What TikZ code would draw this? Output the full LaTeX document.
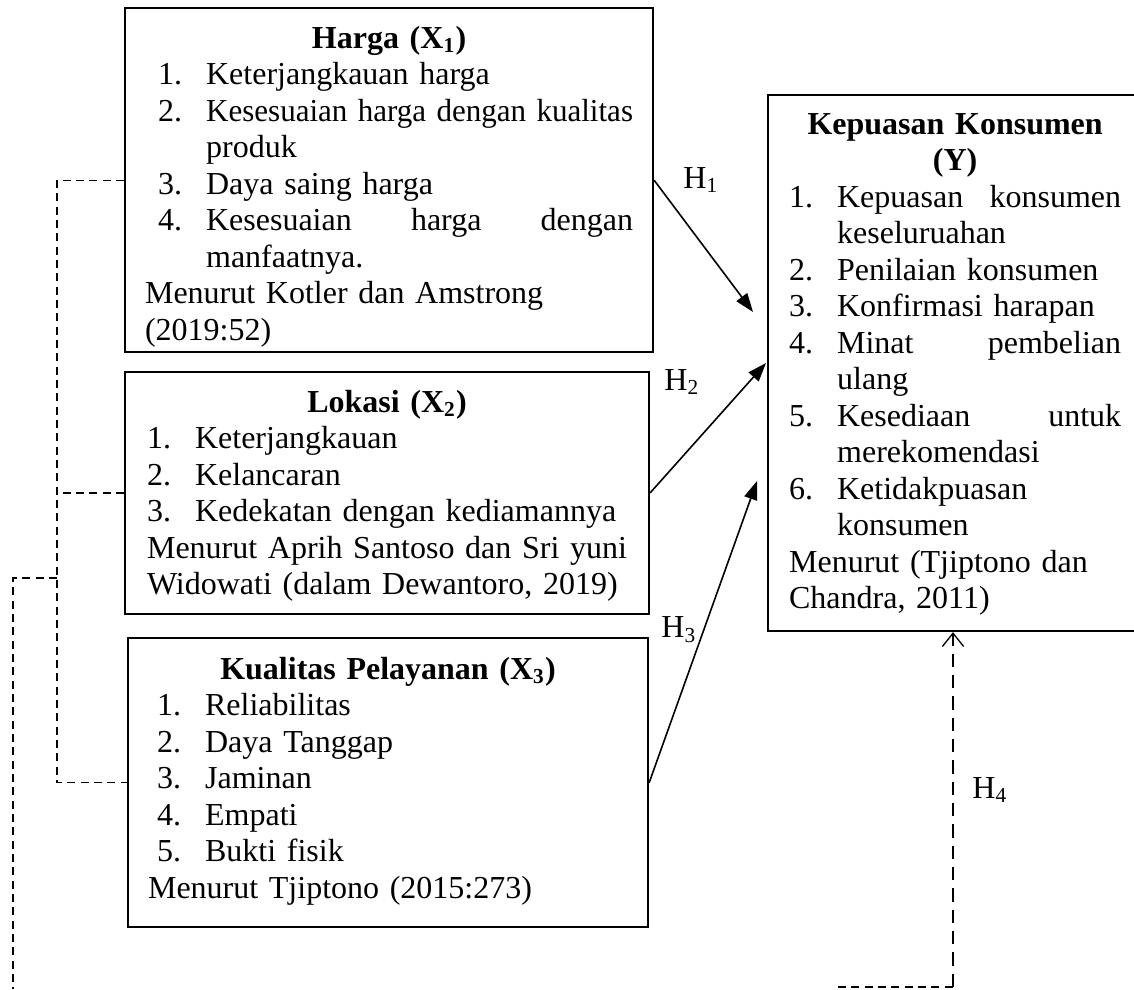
\documentclass[tikz,border=0pt]{standalone}
\usepackage{fontspec}
\setmainfont{Liberation Serif}
\usepackage{graphicx}
\usepackage{tikz}
\usetikzlibrary{arrows.meta}
\setlength{\parindent}{0pt}
\newcommand{\butir}[3][0pt]{\hspace*{#1}\makebox[18pt][l]{#2}#3}
\newcommand{\lanjut}[2][0pt]{\hspace*{\dimexpr#1+18pt\relax}#2}
\newcommand{\atas}[1]{\rule{0pt}{#1}}
\newcommand{\bawah}[1]{\rule[-#1]{0pt}{#1}}

\begin{document}
\begin{tikzpicture}[x=0.375pt,y=-0.375pt,
                    kotak/.style={draw,line width=0.8pt,inner ysep=0pt,anchor=north west,align=left,font=\fontsize{12}{13.7}\selectfont},
                    panah/.style={-{Triangle[length=7pt,width=5pt]},line width=0.6pt},
                    garis/.style={line width=0.5pt,dash pattern=on 3pt off 2pt},
                    garis panjang/.style={line width=0.5pt,dash pattern=on 5pt off 3pt},
                    tanda/.style={font=\fontsize{12}{13.7}\selectfont,inner sep=0pt}]
                    \useasboundingbox (0,0) rectangle (1134,989);
                    \node[kotak,inner xsep=7.5pt,text width=183pt] (harga) at (124,7) {\atas{15pt}\hfill\textbf{Harga (X\textsubscript{1})}\hfill\null\\
                        \butir[4.9pt]{1.}{Keterjangkauan harga}\\
                        \butir[4.9pt]{2.}{\scalebox{0.97}[1]{Kesesuaian harga dengan kualitas}}\\
                        \lanjut[4.9pt]{produk}\\
                        \butir[4.9pt]{3.}{Daya saing harga}\\
                        \butir[4.9pt]{4.}{Kesesuaian\hfill harga\hfill dengan}\\
                        \lanjut[4.9pt]{manfaatnya.}\\
                        Menurut Kotler dan Amstrong\\
                        (2019:52)\bawah{4.5pt}};
                    \node[kotak,inner xsep=8.25pt,text width=180pt] (lokasi) at (124,371) {\atas{15pt}\hfill\textbf{Lokasi (X\textsubscript{2})}\hfill\null\\
                        \butir{1.}{Keterjangkauan}\\
                        \butir{2.}{Kelancaran}\\
                        \butir{3.}{Kedekatan dengan kediamannya}\\
                        Menurut Aprih Santoso dan Sri yuni\\
                        Widowati (dalam Dewantoro, 2019)\bawah{7.1pt}};
                    \node[kotak,inner xsep=7.5pt,text width=180pt] (kualitas) at (127,637) {\atas{15.4pt}\hfill\textbf{Kualitas Pelayanan (X\textsubscript{3})}\hfill\null\\
                        \butir[3.4pt]{1.}{Reliabilitas}\\
                        \butir[3.4pt]{2.}{Daya Tanggap}\\
                        \butir[3.4pt]{3.}{Jaminan}\\
                        \butir[3.4pt]{4.}{Empati}\\
                        \butir[3.4pt]{5.}{Bukti fisik}\\
                        Menurut Tjiptono (2015:273)\bawah{10.9pt}};
                    \node[kotak,inner xsep=7.9pt,text width=124.5pt] (kepuasan) at (767,94) {\atas{14.6pt}\hfill\textbf{Kepuasan Konsumen}\hfill\null\\
                        \hfill\textbf{(Y)}\hfill\null\\
                        \butir{1.}{Kepuasan\hfill konsumen}\\
                        \lanjut{keseluruahan}\\
                        \butir{2.}{Penilaian konsumen}\\
                        \butir{3.}{Konfirmasi harapan}\\
                        \butir{4.}{Minat\hfill pembelian}\\
                        \lanjut{ulang}\\
                        \butir{5.}{Kesediaan\hfill untuk}\\
                        \lanjut{merekomendasi}\\
                        \butir{6.}{Ketidakpuasan}\\
                        \lanjut{konsumen}\\
                        Menurut (Tjiptono dan\\
                        Chandra, 2011)\bawah{8.3pt}};
                    \coordinate (t1) at (753,312);
                    \coordinate (t2) at (766,363);
                    \coordinate (t3) at (757,481);
                    \draw[panah] (harga.east) -- (t1);
                    \draw[panah] (lokasi.east) -- (t2);
                    \draw[panah] (kualitas.east) -- (t3);
                    \node[tanda] (h1) at (701,180) {H\textsubscript{1}};
                    \node[tanda] (h2) at (682,382) {H\textsubscript{2}};
                    \node[tanda] (h3) at (679,630) {H\textsubscript{3}};
                    \node[tanda] (h4) at (990,790) {H\textsubscript{4}};
                    \coordinate (kiri) at (57,578);
                    \coordinate (ujung) at (13,989);
                    \draw[garis] (harga.west) -| (kiri) |- (kualitas.west);
                    \draw[garis] (lokasi.west) -- (lokasi.west -| kiri);
                    \draw[garis] (kiri) -| (ujung);
                    \coordinate (sudut) at (953,987);
                    \coordinate (ekor) at (838,987);
                    \draw[garis] (ekor) -- (sudut);
                    \draw[garis panjang,-{Straight Barb[length=5pt,width=8pt]}] (sudut) -- (sudut |- kepuasan.south);
\end{tikzpicture}
\end{document}
